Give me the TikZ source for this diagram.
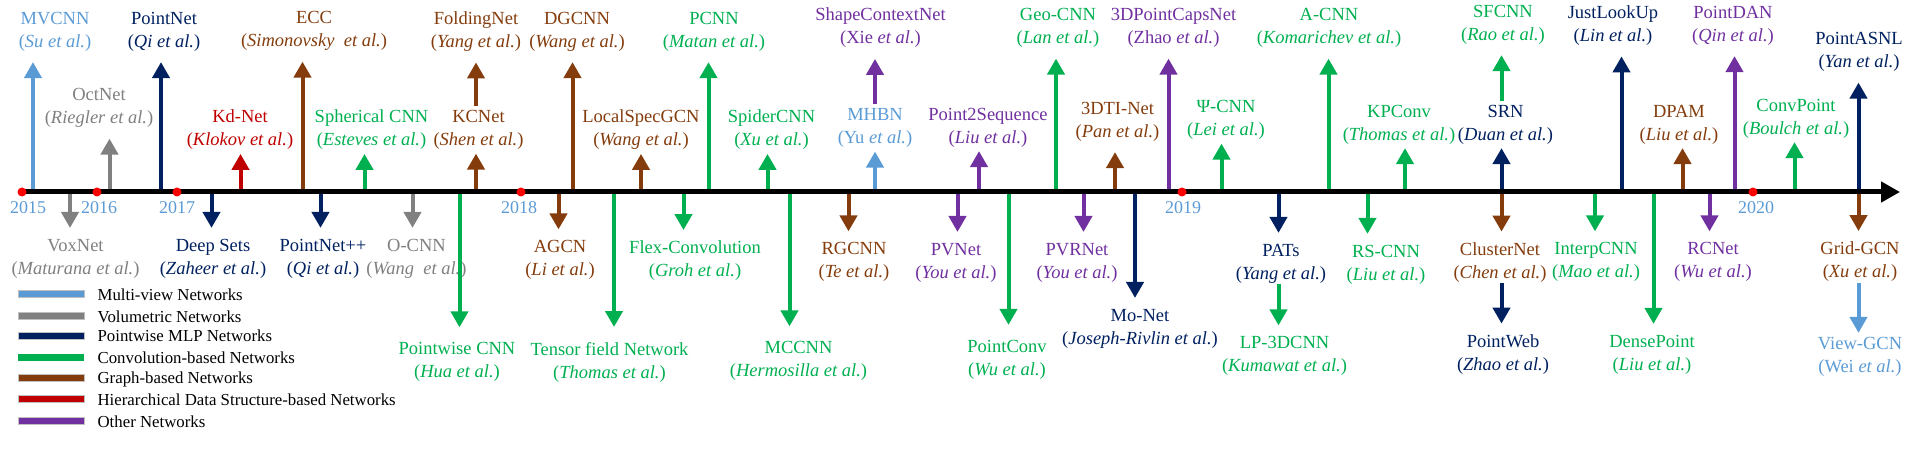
\documentclass[tikz,border=0pt]{standalone}
\usepackage{fontspec}
\setmainfont{Liberation Serif}
\usepackage{tikz}
\usetikzlibrary{arrows.meta}
\usetikzlibrary{positioning}
\definecolor{cmview}{HTML}{5B9BD5}
\definecolor{cvolum}{HTML}{808080}
\definecolor{cmlp}{HTML}{002060}
\definecolor{cconv}{HTML}{00B050}
\definecolor{cgraph}{HTML}{843C0C}
\definecolor{chier}{HTML}{C00000}
\definecolor{cother}{HTML}{7030A0}
\tikzstyle{every node}+=[inner sep=0pt]
\tikzstyle{net} = [align=center, font=\fontsize{18.5}{23}\selectfont, inner sep=2pt, outer sep=9pt]
\tikzstyle{nearlbl} = [outer sep=2pt]
\tikzstyle{farlbl} = [outer sep=13pt]
\tikzstyle{line} = [draw, line width=4pt, -{Triangle[width=17pt,length=16pt]}]
\tikzstyle{fromlbl} = [shorten <=-10pt]
\tikzstyle{timeline} = [draw, line width=5pt, -{Triangle[width=20pt,length=19pt]}]
\tikzstyle{yeardot} = [circle, fill=red, minimum size=9pt]
\tikzstyle{year} = [font=\fontsize{18}{20}\selectfont, text=cmview]
\tikzstyle{legbar} = [rectangle, draw=black!25, line width=0.8pt, minimum width=66pt, minimum height=7pt]
\tikzstyle{legtext} = [font=\fontsize{16.8}{19}\selectfont, text height=12pt, text depth=0pt]

\begin{document}
\begin{tikzpicture}[x=1pt, y=-1pt, node distance=5pt]
\useasboundingbox (0,0) rectangle (1924,454);
% Timeline points
\coordinate (tstart) at (20,192);
\coordinate (tend) at (1900,192);
\coordinate (t-mvcnn) at (33,192);
\coordinate (t-voxnet) at (70,192);
\coordinate (t-octnet) at (109.5,192);
\coordinate (t-pointnet) at (161,192);
\coordinate (t-deepsets) at (211.5,192);
\coordinate (t-kdnet) at (240.5,192);
\coordinate (t-ecc) at (302.5,192);
\coordinate (t-pointnetpp) at (320.5,192);
\coordinate (t-spherical) at (364.5,192);
\coordinate (t-ocnn) at (412.5,192);
\coordinate (t-pointwise) at (459.5,192);
\coordinate (t-kcnet) at (476,192);
\coordinate (t-agcn) at (558.5,192);
\coordinate (t-dgcnn) at (572.5,192);
\coordinate (t-tensorfield) at (614,192);
\coordinate (t-localspec) at (641,192);
\coordinate (t-flexconv) at (683.5,192);
\coordinate (t-pcnn) at (708.5,192);
\coordinate (t-spidercnn) at (767.5,192);
\coordinate (t-mccnn) at (789.5,192);
\coordinate (t-rgcnn) at (848.5,192);
\coordinate (t-mhbn) at (875,192);
\coordinate (t-pvnet) at (957.5,192);
\coordinate (t-point2seq) at (979,192);
\coordinate (t-pointconv) at (1008.5,192);
\coordinate (t-geocnn) at (1056,192);
\coordinate (t-pvrnet) at (1083.5,192);
\coordinate (t-dtinet) at (1115,192);
\coordinate (t-monet) at (1135,192);
\coordinate (t-pointcaps) at (1168.5,192);
\coordinate (t-psicnn) at (1221.5,192);
\coordinate (t-pats) at (1278.5,192);
\coordinate (t-acnn) at (1328.5,192);
\coordinate (t-rscnn) at (1367.5,192);
\coordinate (t-kpconv) at (1405,192);
\coordinate (t-srn) at (1501.5,192);
\coordinate (t-interpcnn) at (1595,192);
\coordinate (t-justlookup) at (1621.5,192);
\coordinate (t-densepoint) at (1653.5,192);
\coordinate (t-dpam) at (1682.5,192);
\coordinate (t-rcnet) at (1709.5,192);
\coordinate (t-pointdan) at (1734.5,192);
\coordinate (t-convpoint) at (1794.5,192);
\coordinate (t-pointasnl) at (1858.5,192);
% Place nodes
\node [net, cmview] (mvcnn) at (55,31.5) {MVCNN\\(\textit{Su et al.})};
\node [net, cmlp] (pointnet) at (164,31.5) {PointNet\\(\textit{Qi et al.})};
\node [net, cgraph] (ecc) at (314,31) {ECC\\(\textit{Simonovsky\ \ et al.})};
\node [net, cgraph] (foldingnet) at (476,31.5) {FoldingNet\\(\textit{Yang et al.})};
\node [net, cgraph] (dgcnn) at (577,31.5) {DGCNN\\(\textit{Wang et al.})};
\node [net, cconv] (pcnn) at (714,31.5) {PCNN\\(\textit{Matan et al.})};
\node [net, cother] (shapecontext) at (880.5,28) {ShapeContextNet\\(Xie \textit{et al.})};
\node [net, cconv] (geocnn) at (1058,28) {Geo-CNN\\(\textit{Lan et al.})};
\node [net, cother] (pointcaps) at (1173.5,28) {3DPointCapsNet\\(Zhao \textit{et al.})};
\node [net, cconv] (acnn) at (1329,28) {A-CNN\\(\textit{Komarichev et al.})};
\node [net, cconv] (sfcnn) at (1503,24.5) {SFCNN\\(\textit{Rao et al.})};
\node [net, cmlp] (justlookup) at (1613,25.5) {JustLookUp\\(\textit{Lin et al.})};
\node [net, cother] (pointdan) at (1733,25.5) {PointDAN\\(\textit{Qin et al.})};
\node [net, cmlp] (pointasnl) at (1859,52) {PointASNL\\(\textit{Yan et al.})};
\node [net, cvolum] (octnet) at (99,108) {OctNet\\(\textit{Riegler et al.})};
\node [net, nearlbl, chier] (kdnet) at (240,130) {Kd-Net\\(\textit{Klokov et al.})};
\node [net, nearlbl, cconv] (spherical) at (371.5,130) {Spherical CNN\\(\textit{Esteves et al.})};
\node [net, nearlbl, cgraph] (kcnet) at (478.5,130) {KCNet\\(\textit{Shen et al.})};
\node [net, nearlbl, cgraph] (localspec) at (641,130) {LocalSpecGCN\\(\textit{Wang et al.})};
\node [net, nearlbl, cconv] (spidercnn) at (771.5,130) {SpiderCNN\\(\textit{Xu et al.})};
\node [net, nearlbl, cmview] (mhbn) at (875,128) {MHBN\\(Yu \textit{et al.})};
\node [net, nearlbl, cother] (point2seq) at (988,127.5) {Point2Sequence\\(\textit{Liu et al.})};
\node [net, cgraph] (dtinet) at (1117.5,121.5) {3DTI-Net\\(\textit{Pan et al.})};
\node [net, nearlbl, cconv] (psicnn) at (1226,120) {Ψ-CNN\\(\textit{Lei et al.})};
\node [net, nearlbl, cconv] (kpconv) at (1399,124.5) {KPConv\\(\textit{Thomas et al.})};
\node [net, nearlbl, cmlp] (srn) at (1505.5,124.5) {SRN\\(\textit{Duan et al.})};
\node [net, nearlbl, cgraph] (dpam) at (1679,124.5) {DPAM\\(\textit{Liu et al.})};
\node [net, nearlbl, cconv] (convpoint) at (1796,118.5) {ConvPoint\\(\textit{Boulch et al.})};
\node [net, cvolum] (voxnet) at (75.5,258.5) {VoxNet\\(\textit{Maturana et al.})};
\node [net, cmlp] (deepsets) at (213,258.5) {Deep Sets\\(\textit{Zaheer et al.})};
\node [net, cmlp] (pointnetpp) at (323,258.5) {PointNet++\\(\textit{Qi et al.})};
\node [net, cvolum] (ocnn) at (416.5,258.5) {O-CNN\\(\textit{Wang\ \ et al.})};
\node [net, cgraph] (agcn) at (560,260) {AGCN\\(\textit{Li et al.})};
\node [net, cconv] (flexconv) at (695,261) {Flex-Convolution\\(\textit{Groh et al.})};
\node [net, cgraph] (rgcnn) at (854,262) {RGCNN\\(\textit{Te et al.})};
\node [net, cother] (pvnet) at (956,262.5) {PVNet\\(\textit{You et al.})};
\node [net, cother] (pvrnet) at (1077,262.5) {PVRNet\\(\textit{You et al.})};
\node [net, cmlp] (pats) at (1281,263.5) {PATs\\(\textit{Yang et al.})};
\node [net, cconv] (rscnn) at (1386,264.5) {RS-CNN\\(\textit{Liu et al.})};
\node [net, cgraph] (clusternet) at (1500,262.5) {ClusterNet\\(\textit{Chen et al.})};
\node [net, cconv] (interpcnn) at (1596,262) {InterpCNN\\(\textit{Mao et al.})};
\node [net, cother] (rcnet) at (1713,262) {RCNet\\(\textit{Wu et al.})};
\node [net, cgraph] (gridgcn) at (1860,262) {Grid-GCN\\(\textit{Xu et al.})};
\node [net, farlbl, cconv] (pointwise) at (457,362) {Pointwise CNN\\(\textit{Hua et al.})};
\node [net, farlbl, cconv] (tensorfield) at (609.5,362) {Tensor field Network\\(\textit{Thomas et al.})};
\node [net, farlbl, cconv] (mccnn) at (798.5,361) {MCCNN\\(\textit{Hermosilla et al.})};
\node [net, farlbl, cconv] (pointconv) at (1007,359.5) {PointConv\\(\textit{Wu et al.})};
\node [net, cmlp] (monet) at (1140,328.5) {Mo-Net\\(\textit{Joseph-Rivlin et al.})};
\node [net, cconv] (lp3dcnn) at (1284.5,356) {LP-3DCNN\\(\textit{Kumawat et al.})};
\node [net, cmlp] (pointweb) at (1503,354.5) {PointWeb\\(\textit{Zhao et al.})};
\node [net, cconv] (densepoint) at (1652,354.5) {DensePoint\\(\textit{Liu et al.})};
\node [net, nearlbl, cmview] (viewgcn) at (1860,356.5) {View-GCN\\(Wei \textit{et al.})};
% Legend
\node [legbar, fill=cmview] (lg1) at (51,294.3) {};
\node [legtext, right=13pt of lg1] (lt1) {Multi-view Networks};
\node [legbar, fill=cvolum] (lg2) at (51,316) {};
\node [legtext, right=13pt of lg2] (lt2) {Volumetric Networks};
\node [legbar, fill=cmlp] (lg3) at (51,335.7) {};
\node [legtext, right=13pt of lg3] (lt3) {Pointwise MLP Networks};
\node [legbar, fill=cconv, draw=none] (lg4) at (51,357) {};
\node [legtext, right=13pt of lg4] (lt4) {Convolution-based Networks};
\node [legbar, fill=cgraph] (lg5) at (51,377.7) {};
\node [legtext, right=13pt of lg5] (lt5) {Graph-based Networks};
\node [legbar, fill=chier] (lg6) at (51,399) {};
\node [legtext, right=13pt of lg6] (lt6) {Hierarchical Data Structure-based Networks};
\node [legbar, fill=cother] (lg7) at (51,421.3) {};
\node [legtext, right=13pt of lg7] (lt7) {Other Networks};
% Draw edges
\path [line, cmview] (t-mvcnn) -- (t-mvcnn |- mvcnn.south);
\path [line, cvolum] (t-voxnet) -- (t-voxnet |- voxnet.north);
\path [line, cvolum] (t-octnet) -- (t-octnet |- octnet.south);
\path [line, cmlp] (t-pointnet) -- (t-pointnet |- pointnet.south);
\path [line, cmlp] (t-deepsets) -- (t-deepsets |- deepsets.north);
\path [line, chier] (t-kdnet) -- (t-kdnet |- kdnet.south);
\path [line, cgraph] (t-ecc) -- (t-ecc |- ecc.south);
\path [line, cmlp] (t-pointnetpp) -- (t-pointnetpp |- pointnetpp.north);
\path [line, cconv] (t-spherical) -- (t-spherical |- spherical.south);
\path [line, cvolum] (t-ocnn) -- (t-ocnn |- ocnn.north);
\path [line, cconv] (t-pointwise) -- (t-pointwise |- pointwise.north);
\path [line, cgraph] (t-kcnet) -- (t-kcnet |- kcnet.south);
\path [line, cgraph] (t-kcnet |- kcnet.north) -- (t-kcnet |- foldingnet.south);
\path [line, cgraph] (t-agcn) -- (t-agcn |- agcn.north);
\path [line, cgraph] (t-dgcnn) -- (t-dgcnn |- dgcnn.south);
\path [line, cconv] (t-tensorfield) -- (t-tensorfield |- tensorfield.north);
\path [line, cgraph] (t-localspec) -- (t-localspec |- localspec.south);
\path [line, cconv] (t-flexconv) -- (t-flexconv |- flexconv.north);
\path [line, cconv] (t-pcnn) -- (t-pcnn |- pcnn.south);
\path [line, cconv] (t-spidercnn) -- (t-spidercnn |- spidercnn.south);
\path [line, cconv] (t-mccnn) -- (t-mccnn |- mccnn.north);
\path [line, cgraph] (t-rgcnn) -- (t-rgcnn |- rgcnn.north);
\path [line, cmview] (t-mhbn) -- (t-mhbn |- mhbn.south);
\path [line, cother] (t-mhbn |- mhbn.north) -- (t-mhbn |- shapecontext.south);
\path [line, cother] (t-pvnet) -- (t-pvnet |- pvnet.north);
\path [line, cother] (t-point2seq) -- (t-point2seq |- point2seq.south);
\path [line, cconv] (t-pointconv) -- (t-pointconv |- pointconv.north);
\path [line, cconv] (t-geocnn) -- (t-geocnn |- geocnn.south);
\path [line, cother] (t-pvrnet) -- (t-pvrnet |- pvrnet.north);
\path [line, cgraph] (t-dtinet) -- (t-dtinet |- dtinet.south);
\path [line, cmlp] (t-monet) -- (t-monet |- monet.north);
\path [line, cother] (t-pointcaps) -- (t-pointcaps |- pointcaps.south);
\path [line, cconv] (t-psicnn) -- (t-psicnn |- psicnn.south);
\path [line, cmlp] (t-pats) -- (t-pats |- pats.north);
\path [line, cconv, fromlbl] (t-pats |- pats.south) -- (t-pats |- lp3dcnn.north);
\path [line, cconv] (t-acnn) -- (t-acnn |- acnn.south);
\path [line, cconv] (t-rscnn) -- (t-rscnn |- rscnn.north);
\path [line, cconv] (t-kpconv) -- (t-kpconv |- kpconv.south);
\path [line, cmlp] (t-srn) -- (t-srn |- srn.south);
\path [line, cconv] (t-srn |- srn.north) -- (t-srn |- sfcnn.south);
\path [line, cgraph] (t-srn) -- (t-srn |- clusternet.north);
\path [line, cmlp, fromlbl] (t-srn |- clusternet.south) -- (t-srn |- pointweb.north);
\path [line, cconv] (t-interpcnn) -- (t-interpcnn |- interpcnn.north);
\path [line, cmlp] (t-justlookup) -- (t-justlookup |- justlookup.south);
\path [line, cconv] (t-densepoint) -- (t-densepoint |- densepoint.north);
\path [line, cgraph] (t-dpam) -- (t-dpam |- dpam.south);
\path [line, cother] (t-rcnet) -- (t-rcnet |- rcnet.north);
\path [line, cother] (t-pointdan) -- (t-pointdan |- pointdan.south);
\path [line, cconv] (t-convpoint) -- (t-convpoint |- convpoint.south);
\path [line, cmlp] (t-pointasnl) -- (t-pointasnl |- pointasnl.south);
\path [line, cgraph] (t-pointasnl) -- (t-pointasnl |- gridgcn.north);
\path [line, cmview, fromlbl] (t-pointasnl |- gridgcn.south) -- (t-pointasnl |- viewgcn.north);
% Timeline
\path [timeline] (tstart) -- (tend);
\node [yeardot] (d2015) at (22,192) {};
\node [yeardot] (d2016) at (97,192) {};
\node [yeardot] (d2017) at (177,192) {};
\node [yeardot] (d2018) at (521,192) {};
\node [yeardot] (d2019) at (1182,192) {};
\node [yeardot] (d2020) at (1753,192) {};
\node [year, below=5pt of d2015, xshift=6pt] (y2015) {2015};
\node [year, below=5pt of d2016, xshift=2pt] (y2016) {2016};
\node [year, below=5pt of d2017] (y2017) {2017};
\node [year, below=5pt of d2018, xshift=-2pt] (y2018) {2018};
\node [year, below=5pt of d2019, xshift=1pt] (y2019) {2019};
\node [year, below=5pt of d2020, xshift=3pt] (y2020) {2020};
\end{tikzpicture}
\end{document}
